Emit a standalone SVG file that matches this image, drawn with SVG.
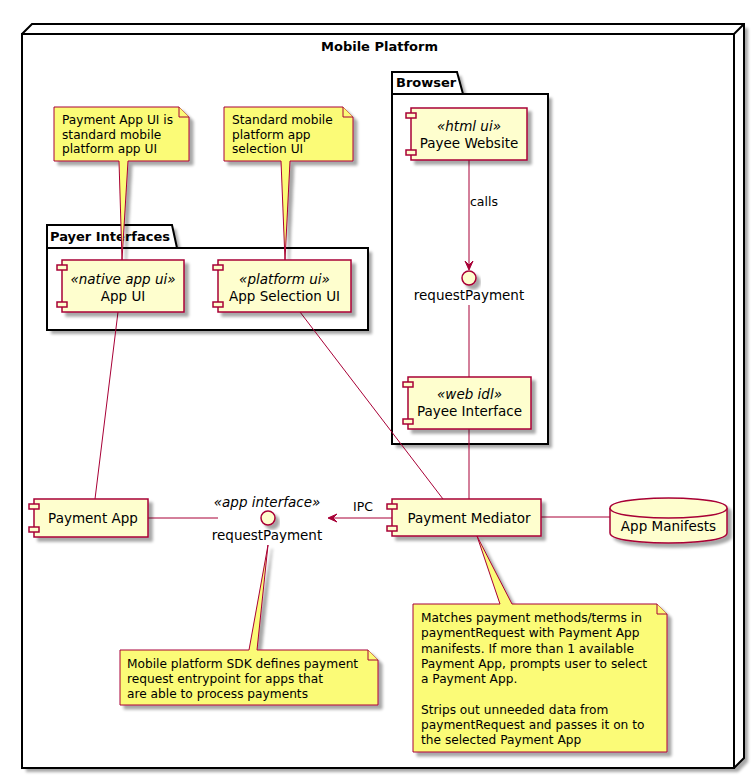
<svg xmlns="http://www.w3.org/2000/svg" width="755" height="779" viewBox="0 0 755 779">
<defs>
<filter id="sh" x="-20%" y="-20%" width="150%" height="150%">
<feGaussianBlur in="SourceAlpha" stdDeviation="1.8"/>
<feOffset dx="4" dy="4" result="b"/>
<feComponentTransfer><feFuncA type="linear" slope="0.35"/></feComponentTransfer>
<feMerge><feMergeNode/><feMergeNode in="SourceGraphic"/></feMerge>
</filter>
<style>
text{font-family:"DejaVu Sans","Liberation Sans",sans-serif;fill:#000}
.title{font-size:13px;font-weight:bold}
.comp{fill:#FEFECE;stroke:#A80036;stroke-width:1.5}
.note{fill:#FBFB77;stroke:#A80036;stroke-width:1}
.pkg{fill:none;stroke:#000;stroke-width:2}
.ln{fill:none;stroke:#A80036;stroke-width:1}
.ah{fill:#A80036;stroke:#A80036;stroke-width:1}
.st{font-size:13.5px;font-style:italic}
.nm{font-size:13.5px}
.nt{font-size:12.2px}
</style>
</defs>
<rect width="755" height="779" fill="#fff"/>

<g id="mobile-platform">
<g filter="url(#sh)">
<polygon points="22,34 32,24 744,24 744,758 734,768 22,768" fill="#fff" stroke="none"/>
</g>
<polyline points="22,34 32,24 744,24 744,758 734,768" fill="none" stroke="#000" stroke-width="2"/>
<rect x="22" y="34" width="712" height="734" fill="none" stroke="#000" stroke-width="2"/>
<line x1="734" y1="34" x2="744" y2="24" stroke="#000" stroke-width="2"/>
<text class="title" x="379.5" y="51" text-anchor="middle">Mobile Platform</text>
</g>

<g id="payer-interfaces">
<g filter="url(#sh)">
<path d="M47,248 L47,225 L172,225 L177,248 L368,248 L368,330 L47,330 Z" fill="#fff"/>
</g>
<path class="pkg" d="M47,248 L47,225 L172,225 L177,248"/>
<rect class="pkg" x="47" y="248" width="321" height="82"/>
<text class="title" x="50" y="241">Payer Interfaces</text>
</g>

<g id="browser">
<g filter="url(#sh)">
<path d="M392,94 L392,72 L457,72 L463,94 L548,94 L548,444 L392,444 Z" fill="#fff"/>
</g>
<path class="pkg" d="M392,94 L392,72 L457,72 L463,94"/>
<rect class="pkg" x="392" y="94" width="156" height="350"/>
<text class="title" x="396" y="87">Browser</text>
</g>

<g id="connectors">
<line class="ln" x1="118" y1="312" x2="95" y2="499"/>
<line class="ln" x1="300" y1="312" x2="443" y2="499"/>
<line class="ln" x1="469" y1="160" x2="469" y2="269"/>
<polygon class="ah" points="469,270 465,261 469,265 473,261"/>
<text class="nm" x="470" y="206" style="font-size:12.5px">calls</text>
<line class="ln" x1="469" y1="305" x2="469" y2="377"/>
<line class="ln" x1="469" y1="429" x2="469" y2="499"/>
<line class="ln" x1="148" y1="518" x2="218" y2="518"/>
<line class="ln" x1="392" y1="518" x2="329" y2="518"/>
<polygon class="ah" points="328,518 337,514 333,518 337,522"/>
<text class="nm" x="363" y="511" text-anchor="middle" style="font-size:12.5px">IPC</text>
<line class="ln" x1="541" y1="517" x2="610" y2="517"/>
</g>

<g id="note-app-ui" filter="url(#sh)">
<path class="note" d="M54,107 L54,161 L119,161 L122,260 L128,161 L189,161 L189,117 L179,107 Z"/>
<path class="note" d="M179,107 L179,117 L189,117"/>
</g>
<g id="note-app-ui-text">
<text class="nt" x="62" y="124">Payment App UI is</text>
<text class="nt" x="62" y="138.7">standard mobile</text>
<text class="nt" x="62" y="153.4">platform app UI</text>
</g>

<g id="note-selection-ui" filter="url(#sh)">
<path class="note" d="M224,107 L224,161 L281,161 L285,260 L290,161 L353,161 L353,117 L343,107 Z"/>
<path class="note" d="M343,107 L343,117 L353,117"/>
</g>
<g id="note-selection-ui-text">
<text class="nt" x="232" y="124">Standard mobile</text>
<text class="nt" x="232" y="138.7">platform app</text>
<text class="nt" x="232" y="153.4">selection UI</text>
</g>

<g id="app-ui">
<g filter="url(#sh)">
<rect class="comp" x="62" y="260" width="122" height="52"/>
</g>
<rect class="comp" x="57" y="265" width="10" height="5"/>
<rect class="comp" x="57" y="302" width="10" height="5"/>
<text class="st" x="123" y="284" text-anchor="middle">«native app ui»</text>
<text class="nm" x="123" y="301" text-anchor="middle">App UI</text>
</g>

<g id="app-selection-ui">
<g filter="url(#sh)">
<rect class="comp" x="218" y="260" width="133" height="52"/>
</g>
<rect class="comp" x="213" y="265" width="10" height="5"/>
<rect class="comp" x="213" y="302" width="10" height="5"/>
<text class="st" x="284.5" y="284" text-anchor="middle">«platform ui»</text>
<text class="nm" x="284.5" y="301" text-anchor="middle">App Selection UI</text>
</g>

<g id="payee-website">
<g filter="url(#sh)">
<rect class="comp" x="411" y="108" width="116" height="52"/>
</g>
<rect class="comp" x="406" y="113" width="10" height="5"/>
<rect class="comp" x="406" y="150" width="10" height="5"/>
<text class="st" x="469" y="131" text-anchor="middle">«html ui»</text>
<text class="nm" x="469" y="148" text-anchor="middle">Payee Website</text>
</g>

<g id="request-payment-web">
<g filter="url(#sh)">
<circle class="comp" cx="469" cy="278" r="7"/>
</g>
<text class="nm" x="469" y="300" text-anchor="middle">requestPayment</text>
</g>

<g id="payee-interface">
<g filter="url(#sh)">
<rect class="comp" x="408" y="377" width="123" height="52"/>
</g>
<rect class="comp" x="403" y="382" width="10" height="5"/>
<rect class="comp" x="403" y="419" width="10" height="5"/>
<text class="st" x="469.5" y="399" text-anchor="middle">«web idl»</text>
<text class="nm" x="469.5" y="416" text-anchor="middle">Payee Interface</text>
</g>

<g id="payment-app">
<g filter="url(#sh)">
<rect class="comp" x="34" y="499" width="114" height="38"/>
</g>
<rect class="comp" x="29" y="504" width="10" height="5"/>
<rect class="comp" x="29" y="527" width="10" height="5"/>
<text class="nm" x="93" y="523" text-anchor="middle">Payment App</text>
</g>

<g id="request-payment-app">
<text class="st" x="267" y="507" text-anchor="middle">«app interface»</text>
<g filter="url(#sh)">
<circle class="comp" cx="268" cy="518" r="7"/>
</g>
<text class="nm" x="267" y="540" text-anchor="middle">requestPayment</text>
</g>

<g id="payment-mediator">
<g filter="url(#sh)">
<rect class="comp" x="392" y="499" width="149" height="37"/>
</g>
<rect class="comp" x="387" y="504" width="10" height="5"/>
<rect class="comp" x="387" y="526" width="10" height="5"/>
<text class="nm" x="469" y="523" text-anchor="middle">Payment Mediator</text>
</g>

<g id="app-manifests">
<g filter="url(#sh)">
<path class="comp" d="M610,508 C610,498 668.5,498 668.5,498 C668.5,498 727,498 727,508 L727,533 C727,543 668.5,543 668.5,543 C668.5,543 610,543 610,533 Z"/>
</g>
<path class="comp" d="M610,508 C610,518 668.5,518 668.5,518 C668.5,518 727,518 727,508" fill="none"/>
<text class="nm" x="668.5" y="531" text-anchor="middle">App Manifests</text>
</g>

<g id="note-sdk" filter="url(#sh)">
<path class="note" d="M120,650 L120,705 L378,705 L378,660 L368,650 L257,650 L268,545 L249,650 Z"/>
<path class="note" d="M368,650 L368,660 L378,660"/>
</g>
<g id="note-sdk-text">
<text class="nt" x="127" y="668">Mobile platform SDK defines payment</text>
<text class="nt" x="127" y="683">request entrypoint for apps that</text>
<text class="nt" x="127" y="698">are able to process payments</text>
</g>

<g id="note-mediator" filter="url(#sh)">
<path class="note" d="M413,604 L413,752 L667,752 L667,614 L657,604 L512,604 L477,536 L500,604 Z"/>
<path class="note" d="M657,604 L657,614 L667,614"/>
</g>
<g id="note-mediator-text">
<text class="nt" x="421" y="622">Matches payment methods/terms in</text>
<text class="nt" x="421" y="637.3">paymentRequest with Payment App</text>
<text class="nt" x="421" y="652.6">manifests. If more than 1 available</text>
<text class="nt" x="421" y="667.9">Payment App, prompts user to select</text>
<text class="nt" x="421" y="683.2">a Payment App.</text>
<text class="nt" x="421" y="713.8">Strips out unneeded data from</text>
<text class="nt" x="421" y="729.1">paymentRequest and passes it on to</text>
<text class="nt" x="421" y="744.4">the selected Payment App</text>
</g>
</svg>
